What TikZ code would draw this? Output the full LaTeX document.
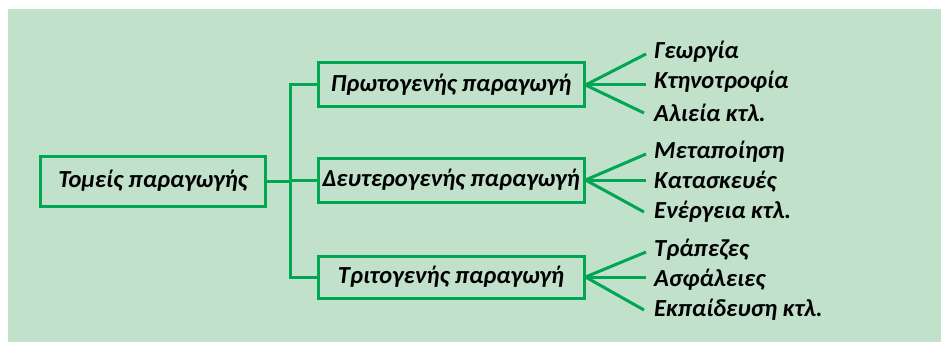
\documentclass[tikz,border=0pt]{standalone}
\usepackage{fontspec}
\setmainfont{Carlito}
\definecolor{bgc}{HTML}{C1E1CB}
\definecolor{lc}{HTML}{00A651}
\begin{document}
\begin{tikzpicture}[x=1pt,y=-1pt,
  box/.style={draw=lc,line width=3pt,minimum height=44pt,inner sep=0pt,font=\fontsize{24.5}{28}\selectfont\bfseries\itshape},
  leaf/.style={anchor=west,inner sep=0pt,font=\fontsize{24.5}{28}\selectfont\bfseries\itshape},
  conn/.style={draw=lc,line width=3pt}]
\useasboundingbox (0,0) rectangle (941,342);
\fill[bgc] (8,9) rectangle (941,342);
\node[box,minimum width=225pt,minimum height=50pt] (root) at (153,181) {Τομείς παραγωγής};
\node[box,minimum width=266pt] (p1) at (451,85) {Πρωτογενής παραγωγή};
\node[box,minimum width=266pt] (p2) at (451,180) {Δευτερογενής παραγωγή};
\node[box,minimum width=266pt,minimum height=42pt] (p3) at (451,277) {Τριτογενής παραγωγή};
\coordinate (t) at (290,180);
\draw[conn] (root.east) -- (t |- root.east);
\draw[conn] (p1.west) -| (t) |- (p3.west);
\draw[conn] (t) -- (p2.west);
% leaves
\node[leaf] (a1) at (654,52) {Γεωργία};
\node[leaf] (a2) at (654,82) {Κτηνοτροφία};
\node[leaf] (a3) at (654,113) {Αλιεία κτλ.};
\node[leaf] (b1) at (654,152) {Μεταποίηση};
\node[leaf] (b2) at (654,182) {Κατασκευές};
\node[leaf] (b3) at (654,212) {Ενέργεια κτλ.};
\node[leaf] (c1) at (654,250) {Τράπεζες};
\node[leaf] (c2) at (654,280) {Ασφάλειες};
\node[leaf] (c3) at (654,310) {Εκπαίδευση κτλ.};
\foreach \p/\a/\b/\c in {p1/a1/a2/a3,p2/b1/b2/b3,p3/c1/c2/c3}{
  \draw[conn] (\p.east) -- ([xshift=-8pt,yshift=-2pt]\a.west);
  \draw[conn] (\p.east) -- ([xshift=-8pt]\b.west |- \p.east);
  \draw[conn] (\p.east) -- ([xshift=-10pt,yshift=0pt]\c.west);
}
\end{tikzpicture}
\end{document}
